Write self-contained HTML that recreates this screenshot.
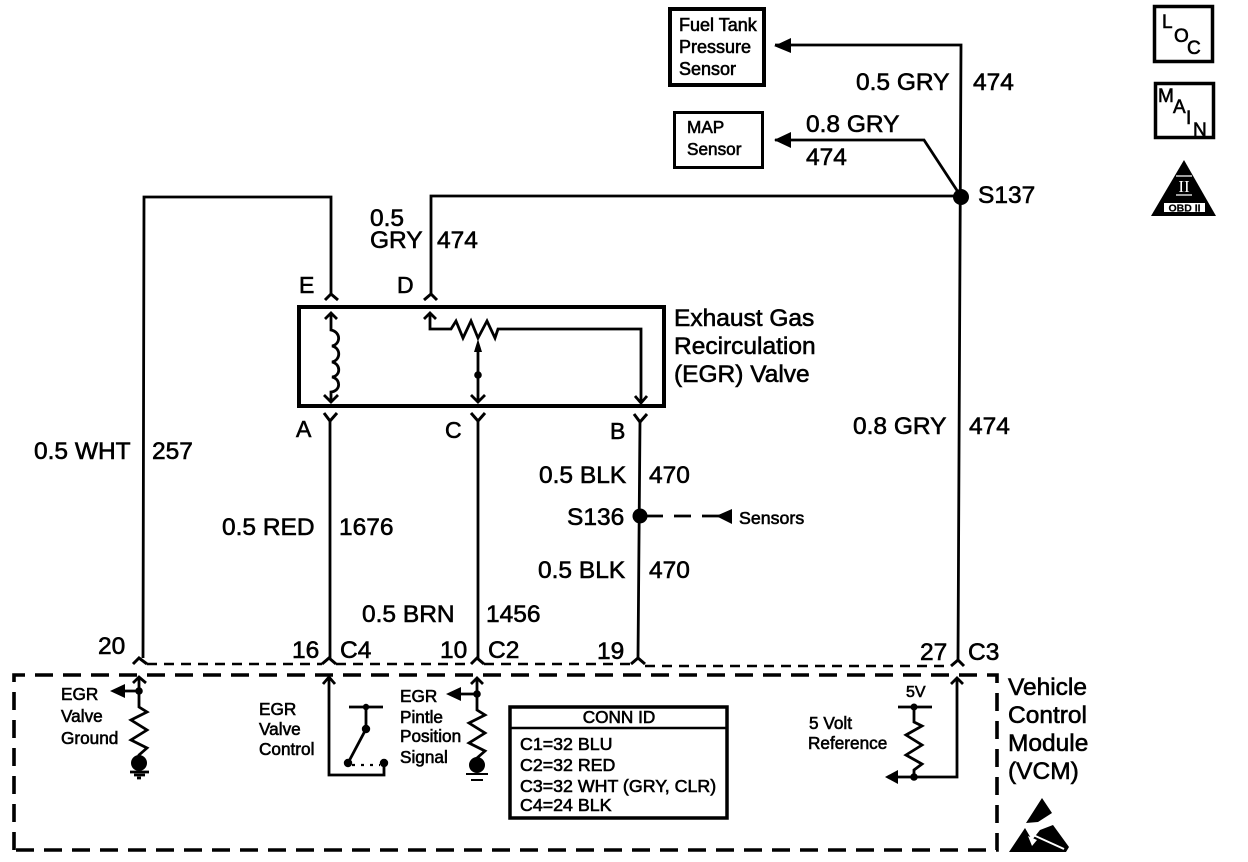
<!DOCTYPE html>
<html><head><meta charset="utf-8"><style>
html,body{margin:0;padding:0;background:#fff;width:1248px;height:862px;overflow:hidden}
svg{display:block}
text{font-family:"Liberation Sans",sans-serif;fill:#000;stroke:#000;stroke-width:.6}
.l{font-size:24.5px}.s{font-size:17.2px}.x{font-size:16px}
.w{fill:none;stroke:#000;stroke-width:2.8}
.c{fill:none;stroke:#000;stroke-width:3}
.f{fill:#000;stroke:none}
</style></head><body>
<svg width="1248" height="862" viewBox="0 0 1248 862">
<!-- main wires -->
<path class="w" d="M775 45H961L958 660"/>
<path class="w" d="M775 140H924L960 195"/>
<path class="w" d="M143 658L144 197H331V294M431 294V196H961"/>
<path class="w" d="M330 421V658M478 421V658M640 422L638 658"/>
<circle class="f" cx="961" cy="197" r="8"/>
<circle class="f" cx="640" cy="516" r="7.5"/>
<path class="f" d="M774 46L791 38V53ZM774 140L791 132V148Z"/>
<path class="w" d="M647 516H663M674 516H691M702 516H720"/>
<path class="f" d="M716 516L732 509V524Z"/>
<!-- connectors -->
<path class="c" d="M325 300L331 294L338 300M424 300L431 294L437 300M324 413L330 421L337 413M471 413L478 421L485 413M634 414L640 422L647 414"/>
<path class="c" d="M133 664L139 658L147 664M322 664L329 658L336 664M471 664L477 658L484 664M631 664L638 658L645 664M951 666L958 660L964 666"/>
<!-- EGR box -->
<rect x="299" y="307" width="365" height="99" fill="none" stroke="#000" stroke-width="4"/>
<path class="w" d="M331 313V330C341 332 341 344 332 346C341 348 341 360 332 362C341 364 341 376 332 377C341 379 341 391 331 392V402M324 395L331 402L338 395M325 319L331 313L337 319"/>
<path class="w" d="M430 313V329H451L456 321L463 338L471 321L478 338L487 321L495 338L498 329H641V402M424 319L430 313L436 319M635 396L641 403L647 396"/>
<path class="w" d="M478 345V402M471 395L478 402L485 395"/>
<path class="f" d="M478 339L482 352H474Z"/><circle class="f" cx="478" cy="375" r="3.8"/>
<!-- VCM box -->
<path d="M147 664H322M336 664H471M484 664H631M645 666H951" fill="none" stroke="#000" stroke-width="2.6" stroke-dasharray="10 7"/>
<path d="M14 850V675H997V850Z" fill="none" stroke="#000" stroke-width="3.6" stroke-dasharray="18 10"/>
<!-- ground 1 -->
<path class="w" d="M139 677V707L147 712L131 720L147 730L131 740L147 748L139 755V760M133 683L139 677L146 683M139 691H120"/>
<path class="f" d="M110 691L125 684V698Z"/><circle class="f" cx="139" cy="691" r="3.8"/><circle class="f" cx="139" cy="763" r="8"/>
<path class="w" d="M130 772H149M134 775H145M137 778H141"/>
<!-- switch -->
<path class="w" d="M329 677V775H384V763M323 684L329 677L335 684M349 707H383M366 707V729L348 763"/>
<circle class="f" cx="366" cy="707" r="3.2"/><circle class="f" cx="366" cy="729" r="4.2"/><circle class="f" cx="348" cy="763" r="4.2"/><circle class="f" cx="384" cy="763" r="4.2"/>
<path d="M352 765H380" fill="none" stroke="#000" stroke-width="2.2" stroke-dasharray="3 6"/>
<!-- ground 2 -->
<path class="w" d="M477 678V710L485 715L469 723L485 733L469 743L485 751L477 758V762M471 684L477 678L483 684M477 694H458"/>
<path class="f" d="M446 694L461 687V701Z"/><circle class="f" cx="477" cy="694" r="3.8"/><circle class="f" cx="477" cy="765" r="8"/>
<path class="w" d="M466 774H488M471 780H483" style="stroke-width:2"/>
<!-- 5V -->
<path class="w" d="M957 678V777H895M951 684L957 678L963 684M898 707H932M914 707V722L922 726L906 735L922 745L906 755L922 764L914 770V777"/>
<path class="f" d="M885 777L898 770V784Z"/><circle class="f" cx="914" cy="707" r="3.5"/><circle class="f" cx="914" cy="777" r="3.8"/>
<!-- boxes -->
<rect x="670" y="9" width="94" height="76" fill="none" stroke="#000" stroke-width="4"/>
<rect x="674.5" y="112.5" width="88" height="55" fill="none" stroke="#000" stroke-width="3"/>
<rect x="510" y="707" width="217" height="111" fill="none" stroke="#000" stroke-width="3.5"/>
<path d="M510 728H727" stroke="#000" stroke-width="2.5"/>
<rect x="1154.5" y="6.5" width="58" height="55" fill="none" stroke="#000" stroke-width="3.5"/>
<rect x="1155.5" y="83.5" width="58" height="54" fill="none" stroke="#000" stroke-width="3.5"/>
<!-- OBD triangle -->
<path class="f" d="M1184 160L1216 216H1151Z"/>
<rect x="1164" y="203" width="41" height="9" fill="#fff"/>
<path d="M1176 176H1192M1176 195H1192" stroke="#fff" stroke-width="1.2"/>
<text x="1184" y="192" text-anchor="middle" style="font-size:17px;fill:#fff;stroke:none;font-family:'Liberation Serif',serif">II</text>
<text x="1184.5" y="211.5" text-anchor="middle" style="font-size:10.5px;stroke-width:.2;font-weight:bold">OBD II</text>
<!-- ESD -->
<path class="f" d="M1042 798L1052 813L1038 822L1026 823ZM1009 852L1025 828L1032 840L1040 830L1053 825L1069 847L1066 852Z"/>
<path d="M1031 834L1064 849" stroke="#fff" stroke-width="2" fill="none"/>
<path d="M1028 836L1032 846L1037 840Z" fill="#fff"/>
<!-- labels -->
<g class="l">
<text x="856" y="90">0.5 GRY</text><text x="973" y="90">474</text>
<text x="806" y="132">0.8 GRY</text><text x="806" y="165">474</text>
<text x="978" y="203">S137</text>
<text x="370" y="226">0.5</text><text x="370" y="248">GRY</text><text x="437" y="248">474</text>
<text x="299" y="293" style="font-size:23px">E</text><text x="397" y="293" style="font-size:23px">D</text>
<text x="296" y="437" style="font-size:23px">A</text><text x="445" y="438" style="font-size:23px">C</text><text x="610" y="439" style="font-size:23px">B</text>
<text x="674" y="326">Exhaust Gas</text><text x="674" y="354">Recirculation</text><text x="674" y="382">(EGR) Valve</text>
<text x="34" y="459">0.5 WHT</text><text x="152" y="459">257</text>
<text x="222" y="535">0.5 RED</text><text x="339" y="535">1676</text>
<text x="362" y="622">0.5 BRN</text><text x="486" y="622">1456</text>
<text x="539" y="483">0.5 BLK</text><text x="649" y="483">470</text>
<text x="567" y="525">S136</text>
<text x="538" y="578">0.5 BLK</text><text x="649" y="578">470</text>
<text x="853" y="434">0.8 GRY</text><text x="969" y="434">474</text>
<text x="98" y="654">20</text><text x="292" y="658">16</text><text x="340" y="658">C4</text>
<text x="440" y="658">10</text><text x="488" y="658">C2</text><text x="597" y="659">19</text>
<text x="920" y="660">27</text><text x="968" y="660">C3</text>
<text x="1008" y="695">Vehicle</text><text x="1008" y="723">Control</text><text x="1008" y="751">Module</text><text x="1008" y="779">(VCM)</text>
</g>
<g class="s">
<g style="font-size:18px"><text x="679" y="31">Fuel Tank</text><text x="679" y="53">Pressure</text><text x="679" y="75">Sensor</text></g>
<text x="687" y="133">MAP</text><text x="687" y="155">Sensor</text>
<text x="61" y="700">EGR</text><text x="61" y="722">Valve</text><text x="61" y="744">Ground</text>
<text x="259" y="715">EGR</text><text x="259" y="735">Valve</text><text x="259" y="755">Control</text>
<text x="400" y="702">EGR</text><text x="400" y="723">Pintle</text><text x="400" y="742">Position</text><text x="400" y="763">Signal</text>
<text x="809" y="729">5 Volt</text><text x="808" y="749">Reference</text>
<text x="619" y="723" text-anchor="middle">CONN ID</text>
<g style="font-size:17.8px"><text x="520" y="750">C1=32 BLU</text><text x="520" y="771">C2=32 RED</text>
<text x="520" y="792">C3=32 WHT (GRY, CLR)</text><text x="520" y="811">C4=24 BLK</text></g>
</g>
<g class="x">
<text x="739" y="524" style="font-size:17.8px">Sensors</text><text x="906" y="697">5V</text>
<g style="font-size:19px"><text x="1162" y="28">L</text><text x="1174" y="42">O</text><text x="1187" y="54">C</text>
<text x="1158" y="102">M</text><text x="1173" y="113">A</text><text x="1186" y="124">I</text><text x="1193" y="136">N</text></g>
</g>
</svg>
</body></html>
